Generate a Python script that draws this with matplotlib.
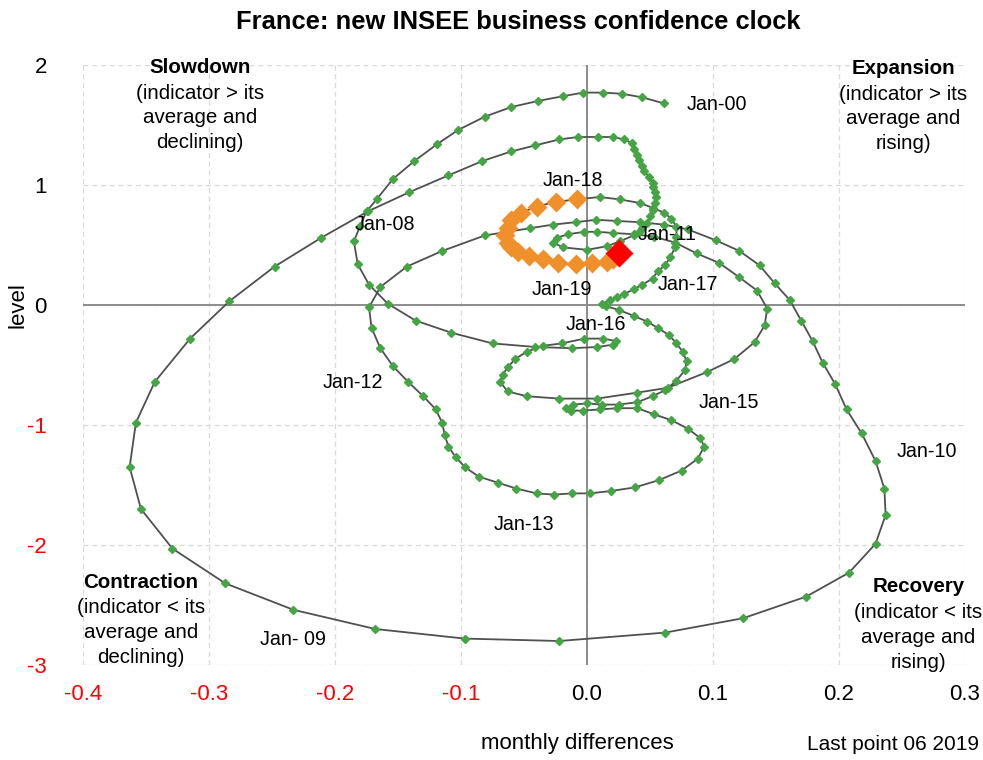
import matplotlib
matplotlib.use("Agg")
import matplotlib.pyplot as plt
import numpy as np

plt.rcParams['font.family'] = ['Liberation Sans', 'DejaVu Sans']

# 2000 -> mid 2007 (x: monthly differences, y: level)
diff_2000_07 = [0.061, 0.044, 0.028, 0.013, -0.003, -0.019, -0.039, -0.060, -0.081, -0.102,
                -0.119, -0.137, -0.154, -0.167, -0.175, -0.180, -0.185, -0.182, -0.173, -0.158,
                -0.136, -0.108, -0.075, -0.041, -0.012, 0.008, 0.021, 0.023, 0.013, -0.002,
                -0.020, -0.035, -0.048, -0.057, -0.063, -0.067, -0.069, -0.063, -0.048, -0.022,
                0.008, 0.040, 0.064, 0.095, 0.117, 0.133, 0.141, 0.143, 0.135, 0.121,
                0.105, 0.087, 0.070, 0.053, 0.037, 0.021, 0.008, -0.002, -0.015, -0.024,
                -0.027, -0.019, 0.000, 0.016, 0.026, 0.037, 0.041, 0.044, 0.048, 0.050,
                0.052, 0.054, 0.055, 0.054, 0.052, 0.052, 0.049, 0.045, 0.044, 0.041,
                0.040, 0.037, 0.036, 0.029, 0.021, 0.009]
level_2000_07 = [1.68, 1.73, 1.76, 1.77, 1.77, 1.74, 1.70, 1.65, 1.57, 1.46,
                 1.34, 1.20, 1.05, 0.88, 0.78, 0.66, 0.53, 0.34, 0.17, 0.01,
                 -0.13, -0.23, -0.32, -0.35, -0.36, -0.35, -0.33, -0.30, -0.28, -0.28,
                 -0.32, -0.34, -0.39, -0.45, -0.52, -0.58, -0.64, -0.72, -0.76, -0.78,
                 -0.78, -0.73, -0.69, -0.56, -0.45, -0.31, -0.17, -0.03, 0.12, 0.23,
                 0.35, 0.43, 0.52, 0.57, 0.59, 0.60, 0.61, 0.61, 0.59, 0.56,
                 0.52, 0.48, 0.46, 0.49, 0.53, 0.58, 0.61, 0.64, 0.68, 0.74,
                 0.79, 0.85, 0.90, 0.94, 0.98, 1.02, 1.07, 1.12, 1.16, 1.21,
                 1.25, 1.30, 1.35, 1.38, 1.40, 1.40]

# mid 2007 -> 2013
diff_2007_13 = [-0.007, -0.022, -0.041, -0.060, -0.083, -0.110, -0.141, -0.174, -0.211, -0.248,
                -0.284, -0.315, -0.343, -0.358, -0.363, -0.354, -0.329, -0.287, -0.233, -0.168,
                -0.097, -0.022, 0.062, 0.124, 0.174, 0.208, 0.229, 0.237, 0.236, 0.229,
                0.218, 0.206, 0.197, 0.187, 0.179, 0.170, 0.161, 0.149, 0.137, 0.121,
                0.102, 0.080, 0.061, 0.042, 0.024, 0.007, -0.009, -0.027, -0.045, -0.081,
                -0.115, -0.143, -0.164, -0.173, -0.171, -0.164, -0.154, -0.142, -0.130, -0.120,
                -0.115, -0.113, -0.110, -0.104, -0.097, -0.086, -0.071, -0.056, -0.040, -0.026,
                -0.012, 0.002, 0.019, 0.038, 0.057, 0.075, 0.088, 0.093, 0.090, 0.080,
                0.067, 0.053]
level_2007_13 = [1.40, 1.38, 1.33, 1.28, 1.20, 1.08, 0.94, 0.78, 0.56, 0.32,
                 0.03, -0.28, -0.64, -0.98, -1.35, -1.70, -2.03, -2.32, -2.54, -2.70,
                 -2.78, -2.80, -2.73, -2.61, -2.43, -2.23, -1.99, -1.75, -1.53, -1.30,
                 -1.07, -0.87, -0.66, -0.48, -0.30, -0.13, 0.04, 0.18, 0.33, 0.45,
                 0.54, 0.63, 0.67, 0.69, 0.70, 0.71, 0.69, 0.67, 0.64, 0.58,
                 0.45, 0.32, 0.15, -0.02, -0.19, -0.36, -0.51, -0.64, -0.76, -0.87,
                 -0.98, -1.08, -1.18, -1.27, -1.35, -1.43, -1.48, -1.53, -1.57, -1.58,
                 -1.57, -1.57, -1.55, -1.52, -1.46, -1.38, -1.28, -1.18, -1.11, -1.03,
                 -0.96, -0.91]

# 2014 -> end 2017
diff_2014_17 = [0.040, 0.024, 0.010, -0.003, -0.013, -0.017, -0.011, 0.000, 0.012, 0.025,
                0.040, 0.052, 0.062, 0.071, 0.078, 0.079, 0.076, 0.071, 0.065, 0.056,
                0.048, 0.037, 0.025, 0.015, 0.012, 0.018, 0.024, 0.029, 0.037, 0.044,
                0.052, 0.056, 0.062, 0.066, 0.070, 0.071, 0.071, 0.067, 0.061, 0.052,
                0.042, 0.026, 0.010]
level_2014_17 = [-0.86, -0.86, -0.87, -0.88, -0.88, -0.86, -0.83, -0.82, -0.83, -0.83,
                 -0.81, -0.76, -0.71, -0.63, -0.54, -0.47, -0.39, -0.32, -0.25, -0.19,
                 -0.14, -0.09, -0.04, -0.01, 0.01, 0.04, 0.07, 0.09, 0.13, 0.17,
                 0.22, 0.28, 0.33, 0.40, 0.48, 0.57, 0.65, 0.72, 0.77, 0.81,
                 0.85, 0.88, 0.90]

# Jan 2018 -> Jun 2019 (highlighted)
diff_2018_19 = [-0.008, -0.025, -0.040, -0.052, -0.060, -0.063, -0.065, -0.063, -0.060, -0.055,
                -0.046, -0.035, -0.023, -0.009, 0.004, 0.016, 0.021, 0.025]
level_2018_19 = [0.88, 0.86, 0.82, 0.77, 0.71, 0.64, 0.58, 0.52, 0.48, 0.44,
                 0.41, 0.38, 0.35, 0.34, 0.35, 0.36, 0.38, 0.43]

date_labels = ['Jan-00', 'Jan-08', 'Jan- 09', 'Jan-10', 'Jan-11', 'Jan-12',
               'Jan-13', 'Jan-15', 'Jan-16', 'Jan-17', 'Jan-18', 'Jan-19']
date_label_x = [0.103, -0.160, -0.233, 0.270, 0.064, -0.186,
                -0.050, 0.113, 0.007, 0.080, -0.011, -0.020]
date_label_y = [1.67, 0.67, -2.79, -1.22, 0.59, -0.65,
                -1.83, -0.81, -0.16, 0.17, 1.04, 0.13]

x_ticks = [-0.4, -0.3, -0.2, -0.1, 0.0, 0.1, 0.2, 0.3]
x_tick_labels = ['-0.4', '-0.3', '-0.2', '-0.1', '0.0', '0.1', '0.2', '0.3']
y_ticks = [-3, -2, -1, 0, 1, 2]
y_tick_labels = ['-3', '-2', '-1', '0', '1', '2']

x = np.array(diff_2000_07 + diff_2007_13 + diff_2014_17 + diff_2018_19)
y = np.array(level_2000_07 + level_2007_13 + level_2014_17 + level_2018_19)
n_recent = len(diff_2018_19)

fig = plt.figure(figsize=(9.83, 7.6), dpi=100)
ax = fig.add_axes([83 / 983, 1 - 665 / 760, 882 / 983, 600 / 760])
ax.set_xlim(-0.4, 0.3)
ax.set_ylim(-3, 2)

for s in ax.spines.values():
    s.set_visible(False)
ax.grid(True, color='#d9d9d9', linestyle=(0, (4, 3)), linewidth=0.9)
ax.set_axisbelow(True)
ax.axhline(0, color='#8c8c8c', lw=1.4, zorder=1)
ax.axvline(0, color='#8c8c8c', lw=1.4, zorder=1)

ax.plot(x, y, color='#505050', lw=1.3, zorder=2)
ax.plot(x[:-n_recent], y[:-n_recent], 'D', ms=3.6, color='#45a545', zorder=3)
ax.plot(x[-n_recent:-1], y[-n_recent:-1], 'D', ms=10, color='#f0902a', mec='none', zorder=4)
ax.plot(x[-1:], y[-1:], 'D', ms=14, color='#ff0000', mec='none', zorder=5)

for t, lx, ly in zip(date_labels, date_label_x, date_label_y):
    ax.text(lx, ly, t, ha='center', va='center', fontsize=14.2, zorder=6)

ax.set_xticks(x_ticks)
ax.set_xticklabels(x_tick_labels)
ax.set_yticks(y_ticks)
ax.set_yticklabels(y_tick_labels)
ax.tick_params(length=0, labelsize=16)
ax.tick_params(axis='x', pad=14)
ax.tick_params(axis='y', pad=26)
for lab, v in zip(ax.get_xticklabels(), x_ticks):
    lab.set_color('red' if v < 0 else 'black')
for lab, v in zip(ax.get_yticklabels(), y_ticks):
    lab.set_color('red' if v < 0 else 'black')

quad = [('Slowdown', '(indicator > its\naverage and\ndeclining)', -0.307, 1.98),
        ('Expansion', '(indicator > its\naverage and\nrising)', 0.251, 1.97),
        ('Contraction', '(indicator < its\naverage and\ndeclining)', -0.354, -2.31),
        ('Recovery', '(indicator < its\naverage and\nrising)', 0.263, -2.35)]
for head, body, qx, qy in quad:
    ax.text(qx, qy, head, ha='center', va='center', fontsize=14.8, fontweight='bold', clip_on=False)
    ax.text(qx, qy - 0.135, body, ha='center', va='top', fontsize=14.8, linespacing=1.38, clip_on=False)

fig.text(518 / 983, 1 - 22 / 760, 'France: new INSEE business confidence clock',
         ha='center', va='center', fontsize=18.4, fontweight='bold')
fig.text(577 / 983, 1 - 744 / 760, 'monthly differences', ha='center', va='center', fontsize=16)
fig.text(18 / 983, 1 - 305 / 760, 'level', ha='center', va='center', fontsize=16, rotation=90)
fig.text(893 / 983, 1 - 745 / 760, 'Last point 06 2019', ha='center', va='center', fontsize=15)

fig.savefig('out.png', dpi=100)
